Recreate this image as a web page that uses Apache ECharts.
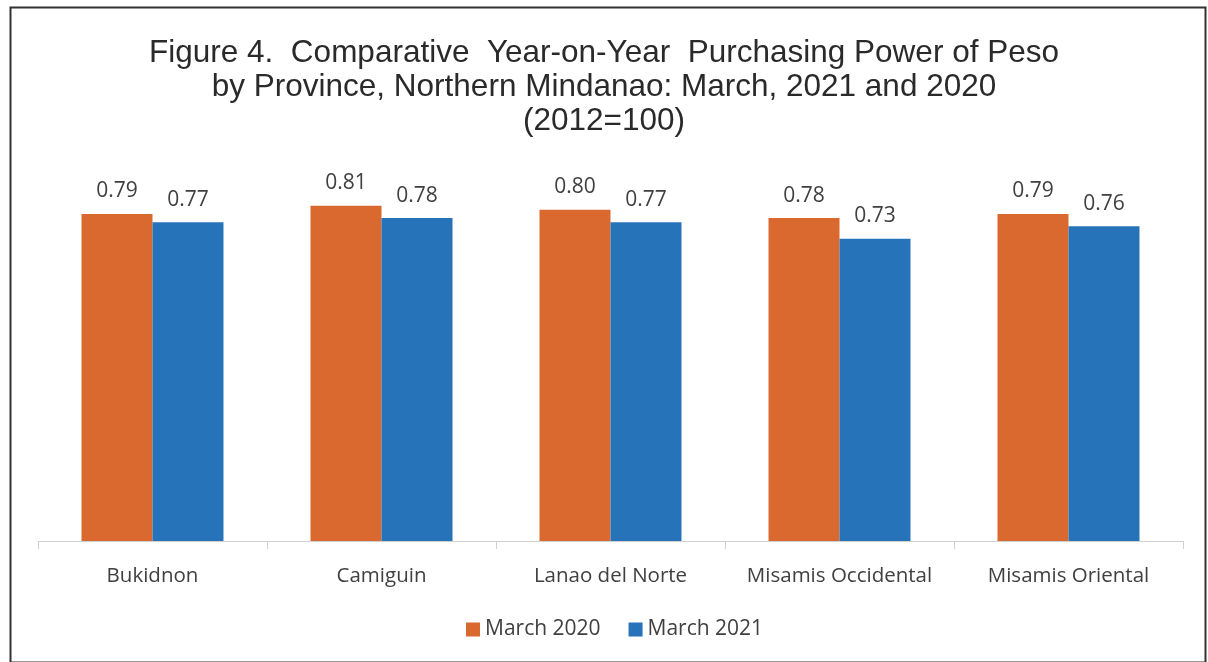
<!DOCTYPE html>
<html>
<head>
<meta charset="utf-8">
<script src="https://cdn.jsdelivr.net/npm/echarts@6/dist/echarts.min.js"></script>
<style>
html,body{margin:0;padding:0;background:#fff;}
#chart{width:1208px;height:662px;}
</style>
</head>
<body>
<div id="chart"></div>
<script>
var titleLines = ['Figure 4.  Comparative  Year-on-Year  Purchasing Power of Peso', 'by Province, Northern Mindanao: March, 2021 and 2020', '(2012=100)'];
var categories = ['Bukidnon', 'Camiguin', 'Lanao del Norte', 'Misamis Occidental', 'Misamis Oriental'];
var seriesNames = ['March 2020', 'March 2021'];
var march2020 = [0.79, 0.81, 0.80, 0.78, 0.79];
var march2021 = [0.77, 0.78, 0.77, 0.73, 0.76];
var colors = ['#D9692E', '#2673BA'];

var chart = echarts.init(document.getElementById('chart'));
var fontFam = '"Open Sans", Lato, sans-serif';
var labelStyle = {
  show: true, position: 'top', distance: 12,
  formatter: function (p) { return p.value.toFixed(2); },
  color: '#404040', fontFamily: fontFam, fontSize: 21
};
chart.setOption({
  animation: false,
  backgroundColor: '#fff',
  title: {
    text: titleLines.join('\n'),
    left: 'center', top: 31,
    textStyle: {
      fontFamily: '"Liberation Sans", Arial, sans-serif',
      fontWeight: 'normal', fontSize: 31.5, lineHeight: 34, color: '#2a2a2a'
    }
  },
  legend: {
    data: seriesNames, bottom: 22, left: 466, padding: 0,
    itemWidth: 14, itemHeight: 14, itemGap: 28,
    icon: 'rect',
    textStyle: { fontFamily: fontFam, fontSize: 21, color: '#404040' }
  },
  grid: { left: 38, right: 25, top: 127, bottom: 121 },
  xAxis: {
    type: 'category', data: categories,
    axisLine: { lineStyle: { color: '#d0d0d0', width: 1 } },
    axisTick: { show: true, interval: 0, length: 8, lineStyle: { color: '#d0d0d0' } },
    axisLabel: { interval: 0, hideOverlap: false, margin: 25, color: '#404040', fontFamily: fontFam, fontSize: 20.5 }
  },
  yAxis: { type: 'value', min: 0, max: 1, show: false, splitLine: { show: false } },
  series: [
    { name: seriesNames[0], type: 'bar', data: march2020, barGap: '0%', barCategoryGap: '38%',
      itemStyle: { color: colors[0] }, label: labelStyle },
    { name: seriesNames[1], type: 'bar', data: march2021,
      itemStyle: { color: colors[1] }, label: labelStyle }
  ],
  graphic: [{
    type: 'rect', left: 8, top: 5,
    shape: { width: 1195, height: 655 },
    style: { fill: 'none', stroke: '#333', lineWidth: 2 }
  }]
});
</script>
</body>
</html>
